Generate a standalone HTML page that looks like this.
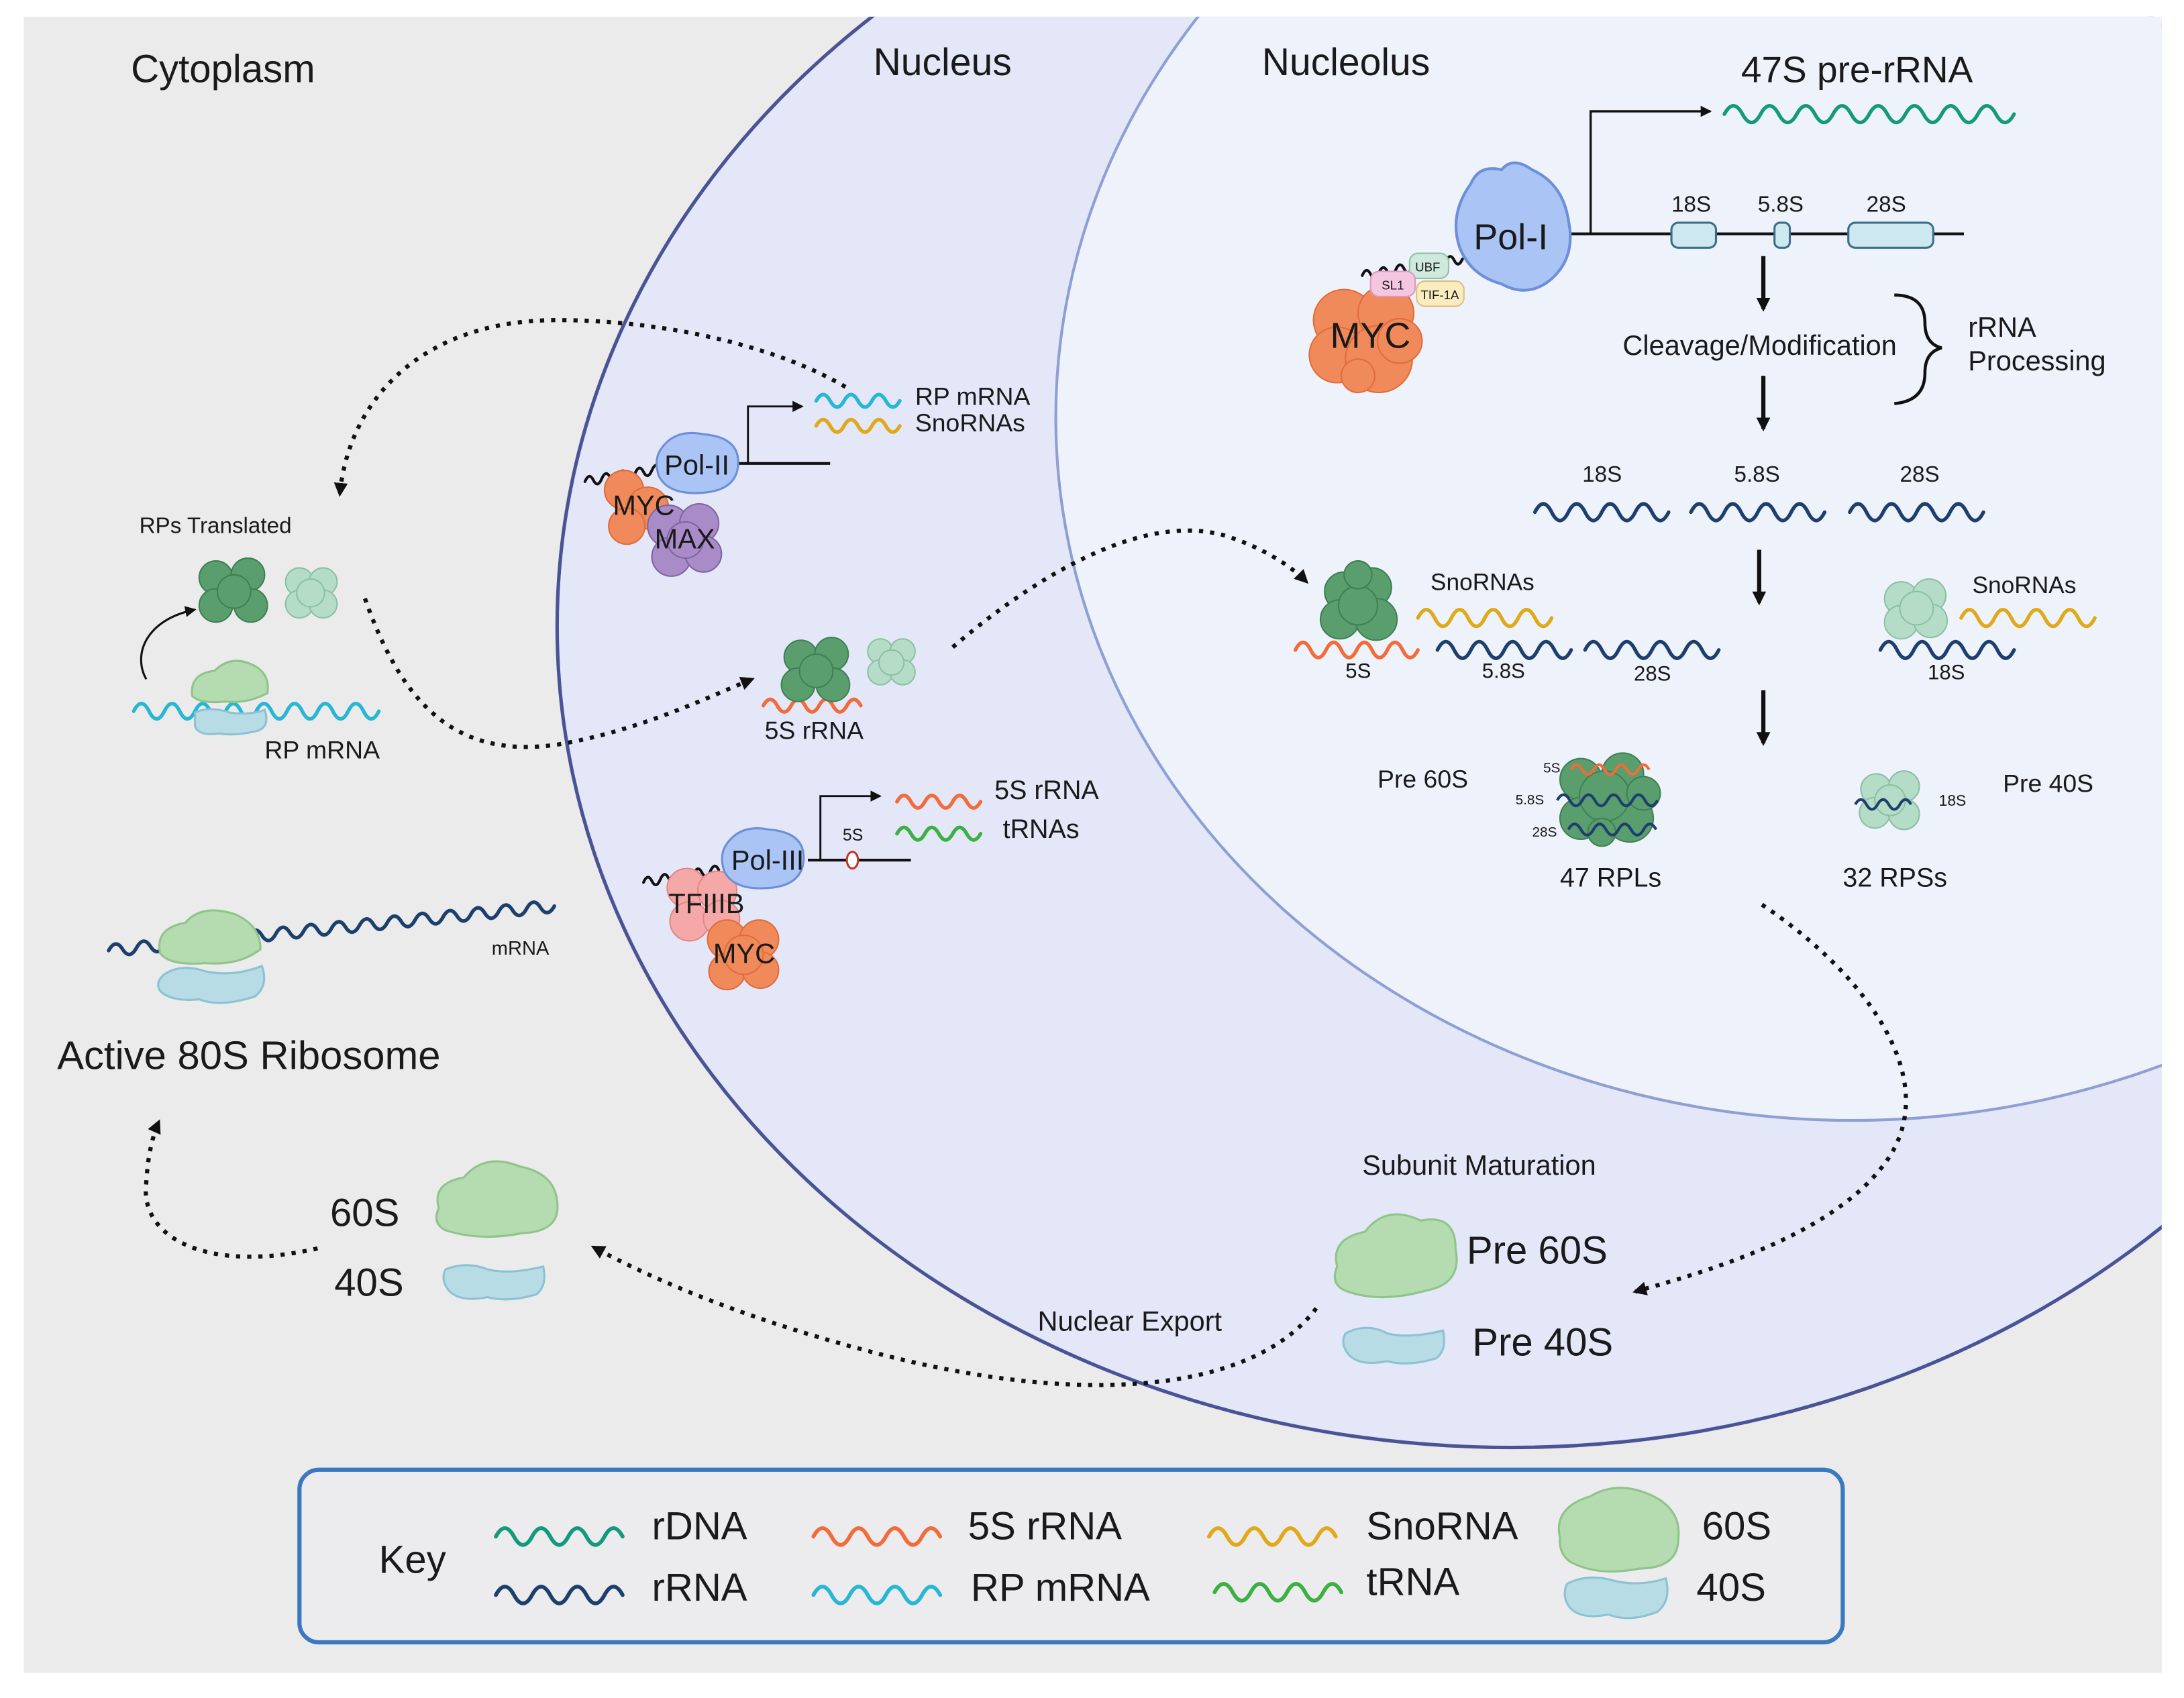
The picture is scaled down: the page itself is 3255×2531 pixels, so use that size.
<!DOCTYPE html>
<html><head><meta charset="utf-8"><style>html,body{margin:0;padding:0;background:#fff}svg{display:block}text{font-family:"Liberation Sans",sans-serif;fill:#1a1a1a}</style></head>
<body>
<svg width="3255" height="2531" viewBox="0 0 1568 1220" preserveAspectRatio="none" xmlns="http://www.w3.org/2000/svg">
<defs>
<marker id="ah" markerWidth="10" markerHeight="10" refX="8" refY="5" orient="auto" markerUnits="userSpaceOnUse"><path d="M0 0 L10 5 L0 10 Z" fill="#111"/></marker>
<marker id="ahs" markerWidth="8" markerHeight="8" refX="7" refY="4" orient="auto" markerUnits="userSpaceOnUse"><path d="M0 0 L8 4 L0 8 Z" fill="#111"/></marker>
<clipPath id="bg"><rect x="17" y="12" width="1535" height="1190"/></clipPath>
</defs>
<rect x="0" y="0" width="1568" height="1220" fill="#fff"/>
<rect x="17" y="12" width="1535" height="1190" fill="#ebebeb"/>
<g clip-path="url(#bg)">
<ellipse cx="1085" cy="450" rx="685" ry="590" fill="#e3e7f8" stroke="#4a5396" stroke-width="2.5"/>
<ellipse cx="1330" cy="300" rx="572" ry="505" fill="#eef2fb" stroke="#8e9fd4" stroke-width="2"/>
</g>

<text x="94" y="59" font-size="28">Cytoplasm</text>
<text x="627" y="54" font-size="27.5">Nucleus</text>
<text x="906" y="54" font-size="27.5">Nucleolus</text>
<text x="1250" y="59" font-size="26.5">47S pre-rRNA</text>

<g fill="none" stroke-width="2.6" stroke-linecap="round">
<path stroke="#139a7a" d="M1238 82 q6.5 -12 13 0 t13 0 t13 0 t13 0 t13 0 t13 0 t13 0 t13 0 t13 0 t13 0 t13 0 t13 0 t13 0 t13 0 t13 0 t13 0"/>
<path stroke="#1d3f6e" d="M1102 368 q6 -12 12 0 t12 0 t12 0 t12 0 t12 0 t12 0 t12 0 t12 0"/>
<path stroke="#1d3f6e" d="M1214 368 q6 -12 12 0 t12 0 t12 0 t12 0 t12 0 t12 0 t12 0 t12 0"/>
<path stroke="#1d3f6e" d="M1328 368 q6 -12 12 0 t12 0 t12 0 t12 0 t12 0 t12 0 t12 0 t12 0"/>
<path stroke="#e0a91a" d="M1018 444 q6 -12 12 0 t12 0 t12 0 t12 0 t12 0 t12 0 t12 0 t12 0"/>
<path stroke="#f26b3a" d="M930 467 q5.5 -11 11 0 t11 0 t11 0 t11 0 t11 0 t11 0 t11 0 t11 0"/>
<path stroke="#1d3f6e" d="M1032 467 q6 -12 12 0 t12 0 t12 0 t12 0 t12 0 t12 0 t12 0 t12 0"/>
<path stroke="#1d3f6e" d="M1138 467 q6 -12 12 0 t12 0 t12 0 t12 0 t12 0 t12 0 t12 0 t12 0"/>
<path stroke="#e0a91a" d="M1408 444 q6 -12 12 0 t12 0 t12 0 t12 0 t12 0 t12 0 t12 0 t12 0"/>
<path stroke="#1d3f6e" d="M1350 467 q6 -12 12 0 t12 0 t12 0 t12 0 t12 0 t12 0 t12 0 t12 0"/>
<path stroke="#27b7d4" d="M586 288 q5 -9 10 0 t10 0 t10 0 t10 0 t10 0 t10 0"/>
<path stroke="#e0a91a" d="M586 306 q5 -9 10 0 t10 0 t10 0 t10 0 t10 0 t10 0"/>
<path stroke="#f26b3a" d="M644 576 q5 -9 10 0 t10 0 t10 0 t10 0 t10 0 t10 0"/>
<path stroke="#3cb043" d="M644 599 q5 -9 10 0 t10 0 t10 0 t10 0 t10 0 t10 0"/>
<path stroke="#27b7d4" d="M96 511 q5.5 -11 11 0 t11 0 t11 0 t11 0 t11 0 t11 0 t11 0 t11 0 t11 0 t11 0 t11 0 t11 0 t11 0 t11 0 t11 0 t11 0"/>
<path stroke="#f26b3a" d="M548 507 q5 -9 10 0 t10 0 t10 0 t10 0 t10 0 t10 0 t10 0"/>
<path stroke="#1d3f6e" d="M78 683 q5 -9 10 -1 t10 -1 t10 -1 t10 -1 t10 -1 t10 -1 t10 -1 t10 -1 t10 -1 t10 -1 t10 -1 t10 -1 t10 -1 t10 -1 t10 -1 t10 -1 t10 -1 t10 -1 t10 -1 t10 -1 t10 -1 t10 -1 t10 -1 t10 -1 t10 -1 t10 -1 t10 -1 t10 -1 t10 -1 t10 -1 t10 -1 t10 -1"/>
<path stroke="#111" stroke-width="2" d="M978 198 q3 -7 6 -1 t6 -1 t6 -1 t6 -1 t6 -1 t6 -1 t6 -1 t6 -1 t6 -1 t6 -1 t6 -1 t6 -1"/>
<path stroke="#111" stroke-width="2" d="M420 346 q3 -7 6 -1 t6 -1 t6 -1 t6 -1 t6 -1 t6 -1 t6 -1 t6 -1 t6 -1"/>
<path stroke="#111" stroke-width="2" d="M462 634 q3 -7 6 -1 t6 -1 t6 -1 t6 -1 t6 -1 t6 -1 t6 -1 t6 -1 t6 -1"/>
</g>

<line x1="1125" y1="168" x2="1410" y2="168" stroke="#111" stroke-width="2"/>
<path d="M1142 168 V80 H1228" fill="none" stroke="#111" stroke-width="1.6" marker-end="url(#ahs)"/>
<rect x="1200" y="160" width="32" height="18" rx="5" fill="#cde8ee" stroke="#3b6e8a" stroke-width="1.5"/>
<rect x="1274" y="160" width="11" height="18" rx="4" fill="#cde8ee" stroke="#3b6e8a" stroke-width="1.5"/>
<rect x="1327" y="160" width="61" height="18" rx="5" fill="#cde8ee" stroke="#3b6e8a" stroke-width="1.5"/>
<text x="1200" y="152" font-size="16">18S</text>
<text x="1262" y="152" font-size="16">5.8S</text>
<text x="1340" y="152" font-size="16">28S</text>
<path d="M1056 132 q6 -14 22 -10 q8 -10 22 0 q22 10 26 36 q6 28 -14 44 q-16 12 -34 2 q-22 -6 -30 -26 q-8 -24 8 -46 z" fill="#a9c4f5" stroke="#6d8fd9" stroke-width="2"/>
<text x="1058" y="179" font-size="26">Pol-I</text>
<g fill="#f08a5a" stroke="#e06c3c" stroke-width="1">
<circle cx="965" cy="230" r="22"/><circle cx="995" cy="225" r="20"/><circle cx="960" cy="255" r="20"/><circle cx="990" cy="258" r="24"/><circle cx="1005" cy="245" r="16"/><circle cx="975" cy="270" r="12"/>
</g>
<text x="955" y="250" font-size="26">MYC</text>
<rect x="1012" y="182" width="28" height="18" rx="6" fill="#cfe9dc" stroke="#8fbfa6"/>
<text x="1016" y="195" font-size="9">UBF</text>
<rect x="984" y="195" width="32" height="18" rx="6" fill="#f5c6e0" stroke="#d99abf"/>
<text x="992" y="208" font-size="9">SL1</text>
<rect x="1017" y="202" width="34" height="18" rx="6" fill="#fbecc0" stroke="#d9c07c"/>
<text x="1020" y="215" font-size="9">TIF-1A</text>

<g stroke="#111" stroke-width="3" marker-end="url(#ah)">
<line x1="1266" y1="184" x2="1266" y2="222"/>
<line x1="1266" y1="270" x2="1266" y2="308"/>
<line x1="1263" y1="395" x2="1263" y2="433"/>
<line x1="1266" y1="496" x2="1266" y2="534"/>
</g>
<text x="1165" y="255" font-size="20">Cleavage/Modification</text>
<path d="M1360 212 q22 0 22 20 q0 15 12 18 q-12 3 -12 18 q0 20 -22 22" fill="none" stroke="#111" stroke-width="2.2"/>
<text x="1413" y="242" font-size="20">rRNA</text>
<text x="1413" y="266" font-size="20">Processing</text>
<text x="1136" y="346" font-size="16">18S</text>
<text x="1245" y="346" font-size="16">5.8S</text>
<text x="1364" y="346" font-size="16">28S</text>

<g fill="#5a9e6e" stroke="#3f7f54" stroke-width="1">
<circle cx="965" cy="425" r="14"/><circle cx="985" cy="422" r="14"/><circle cx="962" cy="445" r="14"/><circle cx="988" cy="445" r="15"/><circle cx="975" cy="435" r="14"/><circle cx="975" cy="413" r="10"/>
</g>
<text x="1027" y="424" font-size="17">SnoRNAs</text>
<text x="966" y="487" font-size="15">5S</text>
<text x="1064" y="487" font-size="15">5.8S</text>
<text x="1173" y="489" font-size="15">28S</text>
<g fill="#b5dcc6" stroke="#8cc0a4" stroke-width="1">
<circle cx="1365" cy="430" r="12"/><circle cx="1385" cy="428" r="12"/><circle cx="1365" cy="447" r="12"/><circle cx="1386" cy="446" r="12"/><circle cx="1376" cy="437" r="12"/>
</g>
<text x="1416" y="426" font-size="17">SnoRNAs</text>
<text x="1384" y="488" font-size="15">18S</text>

<text x="989" y="566" font-size="18">Pre 60S</text>
<g fill="#5a9e6e" stroke="#3f7f54" stroke-width="1">
<circle cx="1135" cy="560" r="15"/><circle cx="1165" cy="556" r="15"/><circle cx="1135" cy="588" r="15"/><circle cx="1170" cy="588" r="17"/><circle cx="1152" cy="572" r="18"/><circle cx="1180" cy="570" r="12"/><circle cx="1150" cy="598" r="10"/>
</g>
<g fill="none" stroke-width="2">
<path stroke="#f26b3a" d="M1128 553 q4 -7 8 0 t8 0 t8 0 t8 0 t8 0 t8 0 t8 0"/>
<path stroke="#1d3f6e" d="M1118 575 q4.5 -8 9 0 t9 0 t9 0 t9 0 t9 0 t9 0 t9 0 t9 0"/>
<path stroke="#1d3f6e" d="M1126 596 q4.5 -8 9 0 t9 0 t9 0 t9 0 t9 0 t9 0 t9 0"/>
</g>
<text x="1108" y="555" font-size="10">5S</text>
<text x="1088" y="578" font-size="10">5.8S</text>
<text x="1100" y="601" font-size="10">28S</text>
<text x="1120" y="637" font-size="19">47 RPLs</text>
<g fill="#b5dcc6" stroke="#8cc0a4" stroke-width="1">
<circle cx="1347" cy="567" r="11"/><circle cx="1367" cy="565" r="11"/><circle cx="1346" cy="584" r="11"/><circle cx="1367" cy="585" r="11"/><circle cx="1357" cy="575" r="11"/>
</g>
<path d="M1332 578 q4 -7 8 0 t8 0 t8 0 t8 0 t8 0" fill="none" stroke="#1d3f6e" stroke-width="2"/>
<text x="1392" y="579" font-size="11">18S</text>
<text x="1323" y="637" font-size="19">32 RPSs</text>
<text x="1438" y="569" font-size="18">Pre 40S</text>

<g fill="none" stroke="#111" stroke-width="3" stroke-dasharray="3 5" marker-end="url(#ah)">
<path d="M1265 650 C1340 700 1400 780 1350 840 C1310 890 1220 915 1174 928"/>
<path d="M945 940 C900 1000 780 1010 640 975 C540 950 470 920 426 896"/>
<path d="M228 897 C150 915 100 890 105 850 C106 830 110 815 114 806"/>
<path d="M262 430 C290 510 330 545 400 535 C460 525 510 500 540 488"/>
<path d="M684 465 C760 400 830 370 880 385 C905 393 925 405 938 418"/>
<path d="M607 278 C560 250 480 230 400 230 C300 230 250 290 244 355"/>
</g>

<text x="978" y="844" font-size="20">Subunit Maturation</text>
<path d="M960 910 q-5 -20 20 -25 q15 -20 40 -8 q25 -5 25 20 q5 25 -20 30 q-35 10 -60 0 q-10 -5 -5 -17 z" fill="#b5dbb0" stroke="#8fc48a" stroke-width="1.5"/>
<text x="1053" y="908" font-size="28">Pre 60S</text>
<path d="M966 958 q15 -8 30 0 q15 4 40 -2 q3 14 -5 20 q-20 6 -35 2 q-20 4 -28 -5 q-6 -8 -2 -15 z" fill="#b7dce6" stroke="#8cc2d2" stroke-width="1.5"/>
<text x="1057" y="974" font-size="28">Pre 40S</text>
<text x="745" y="956" font-size="20">Nuclear Export</text>

<text x="237" y="881" font-size="28">60S</text>
<path d="M315 868 q-5 -18 18 -22 q15 -18 40 -8 q25 5 27 25 q3 22 -25 23 q-30 6 -55 -2 q-10 -5 -5 -16 z" fill="#b5dbb0" stroke="#8fc48a" stroke-width="1.5"/>
<text x="240" y="931" font-size="28">40S</text>
<path d="M320 912 q15 -6 30 0 q15 4 40 -2 q3 14 -5 20 q-20 6 -35 2 q-20 4 -28 -5 q-6 -8 -2 -15 z" fill="#b7dce6" stroke="#8cc2d2" stroke-width="1.5"/>

<path d="M118 700 q12 -8 30 -2 q20 4 40 -4 q5 14 -5 22 q-25 8 -40 2 q-20 2 -28 -6 q-4 -6 3 -12 z" fill="#b7dce6" stroke="#8cc2d2" stroke-width="1.5"/>
<path d="M115 685 q-4 -18 18 -22 q12 -14 36 -6 q18 8 18 25 q-15 12 -40 10 q-25 2 -32 -7 z" fill="#b5dbb0" stroke="#8fc48a" stroke-width="1.5"/>
<text x="353" y="686" font-size="14">mRNA</text>
<text x="41" y="768" font-size="28.8">Active 80S Ribosome</text>

<text x="100" y="383" font-size="16">RPs Translated</text>
<g fill="#5a9e6e" stroke="#3f7f54" stroke-width="1">
<circle cx="155" cy="415" r="12"/><circle cx="178" cy="413" r="12"/><circle cx="155" cy="435" r="12"/><circle cx="180" cy="435" r="12"/><circle cx="168" cy="425" r="12"/>
</g>
<g fill="#b5dcc6" stroke="#8cc0a4" stroke-width="1">
<circle cx="215" cy="418" r="10"/><circle cx="232" cy="418" r="10"/><circle cx="215" cy="434" r="10"/><circle cx="232" cy="434" r="10"/><circle cx="223" cy="426" r="10"/>
</g>
<path d="M140 512 q10 -5 25 0 q15 2 25 -2 q4 12 -5 15 q-15 4 -28 2 q-14 2 -17 -5 z" fill="#b7dce6" stroke="#8cc2d2" stroke-width="1.5"/>
<path d="M138 500 q-2 -16 16 -18 q12 -12 28 -4 q12 6 10 20 q-15 8 -30 6 q-18 2 -24 -4 z" fill="#b5dbb0" stroke="#8fc48a" stroke-width="1.5"/>
<path d="M105 488 C95 470 105 445 140 438" fill="none" stroke="#111" stroke-width="1.5" marker-end="url(#ahs)"/>
<text x="190" y="545" font-size="18">RP mRNA</text>

<g fill="#5a9e6e" stroke="#3f7f54" stroke-width="1">
<circle cx="575" cy="472" r="12"/><circle cx="597" cy="470" r="12"/><circle cx="573" cy="492" r="12"/><circle cx="598" cy="492" r="12"/><circle cx="586" cy="482" r="12"/>
</g>
<g fill="#b5dcc6" stroke="#8cc0a4" stroke-width="1">
<circle cx="632" cy="468" r="9"/><circle cx="648" cy="468" r="9"/><circle cx="632" cy="483" r="9"/><circle cx="648" cy="483" r="9"/><circle cx="640" cy="476" r="9"/>
</g>
<text x="549" y="531" font-size="18">5S rRNA</text>

<line x1="500" y1="333" x2="596" y2="333" stroke="#111" stroke-width="2"/>
<path d="M537 333 V292 H576" fill="none" stroke="#111" stroke-width="1.4" marker-end="url(#ahs)"/>
<text x="657" y="291" font-size="18">RP mRNA</text>
<text x="657" y="310" font-size="18">SnoRNAs</text>
<g fill="#f08a5a" stroke="#e06c3c" stroke-width="1">
<circle cx="448" cy="352" r="14"/><circle cx="465" cy="365" r="15"/><circle cx="450" cy="378" r="13"/>
</g>
<g fill="#a98bc7" stroke="#7f64a4" stroke-width="1">
<circle cx="480" cy="378" r="15"/><circle cx="502" cy="376" r="14"/><circle cx="482" cy="400" r="14"/><circle cx="505" cy="398" r="13"/><circle cx="492" cy="388" r="13"/>
</g>
<path d="M475 322 q10 -14 30 -10 q25 2 25 20 q0 20 -25 22 q-25 2 -32 -12 q-4 -12 2 -20 z" fill="#a9c4f5" stroke="#6d8fd9" stroke-width="1.5"/>
<text x="477" y="341" font-size="20">Pol-II</text>
<text x="440" y="370" font-size="20">MYC</text>
<text x="470" y="394" font-size="20">MAX</text>

<line x1="580" y1="618" x2="654" y2="618" stroke="#111" stroke-width="2"/>
<path d="M589 618 V572 H632" fill="none" stroke="#111" stroke-width="1.4" marker-end="url(#ahs)"/>
<ellipse cx="612" cy="618" rx="4" ry="6" fill="#fff" stroke="#c0392b" stroke-width="1.5"/>
<text x="605" y="604" font-size="12">5S</text>
<text x="714" y="574" font-size="19">5S rRNA</text>
<text x="720" y="602" font-size="19">tRNAs</text>
<g fill="#f4a9a8" stroke="#e08888" stroke-width="1">
<circle cx="493" cy="638" r="14"/><circle cx="515" cy="640" r="14"/><circle cx="495" cy="662" r="14"/><circle cx="518" cy="660" r="13"/>
</g>
<g fill="#f08a5a" stroke="#e06c3c" stroke-width="1">
<circle cx="522" cy="675" r="14"/><circle cx="545" cy="675" r="14"/><circle cx="522" cy="698" r="13"/><circle cx="546" cy="697" r="13"/><circle cx="534" cy="686" r="14"/>
</g>
<path d="M522 606 q10 -14 30 -10 q25 2 25 20 q0 20 -25 22 q-25 2 -32 -12 q-4 -12 2 -20 z" fill="#a9c4f5" stroke="#6d8fd9" stroke-width="1.5"/>
<text x="525" y="625" font-size="20">Pol-III</text>
<text x="480" y="656" font-size="20">TFIIIB</text>
<text x="512" y="692" font-size="20">MYC</text>

<rect x="215" y="1056" width="1108" height="124" rx="14" fill="#ececee" stroke="#3a78c0" stroke-width="3"/>
<text x="272" y="1130" font-size="28">Key</text>
<g fill="none" stroke-width="2.8" stroke-linecap="round">
<path stroke="#139a7a" d="M356 1104 q6.5 -12 13 0 t13 0 t13 0 t13 0 t13 0 t13 0 t13 0"/>
<path stroke="#1d3f6e" d="M356 1146 q6.5 -12 13 0 t13 0 t13 0 t13 0 t13 0 t13 0 t13 0"/>
<path stroke="#f26b3a" d="M584 1104 q6.5 -12 13 0 t13 0 t13 0 t13 0 t13 0 t13 0 t13 0"/>
<path stroke="#27b7d4" d="M584 1146 q6.5 -12 13 0 t13 0 t13 0 t13 0 t13 0 t13 0 t13 0"/>
<path stroke="#e0a91a" d="M868 1104 q6.5 -12 13 0 t13 0 t13 0 t13 0 t13 0 t13 0 t13 0"/>
<path stroke="#3cb043" d="M872 1144 q6.5 -12 13 0 t13 0 t13 0 t13 0 t13 0 t13 0 t13 0"/>
</g>
<text x="468" y="1106" font-size="28">rDNA</text>
<text x="468" y="1150" font-size="28">rRNA</text>
<text x="695" y="1106" font-size="28">5S rRNA</text>
<text x="697" y="1150" font-size="28">RP mRNA</text>
<text x="981" y="1106" font-size="28">SnoRNA</text>
<text x="981" y="1146" font-size="28">tRNA</text>
<path d="M1120 1105 q-5 -22 22 -30 q20 -12 45 0 q20 10 18 30 q0 22 -28 22 q-30 6 -50 -5 q-8 -6 -7 -17 z" fill="#b5dbb0" stroke="#8fc48a" stroke-width="1.5"/>
<text x="1222" y="1106" font-size="28">60S</text>
<path d="M1125 1138 q15 -8 35 -2 q18 4 36 -2 q4 16 -6 24 q-20 8 -35 2 q-20 4 -28 -5 q-6 -8 -2 -17 z" fill="#b7dce6" stroke="#8cc2d2" stroke-width="1.5"/>
<text x="1218" y="1150" font-size="28">40S</text>
</svg>
</body></html>
